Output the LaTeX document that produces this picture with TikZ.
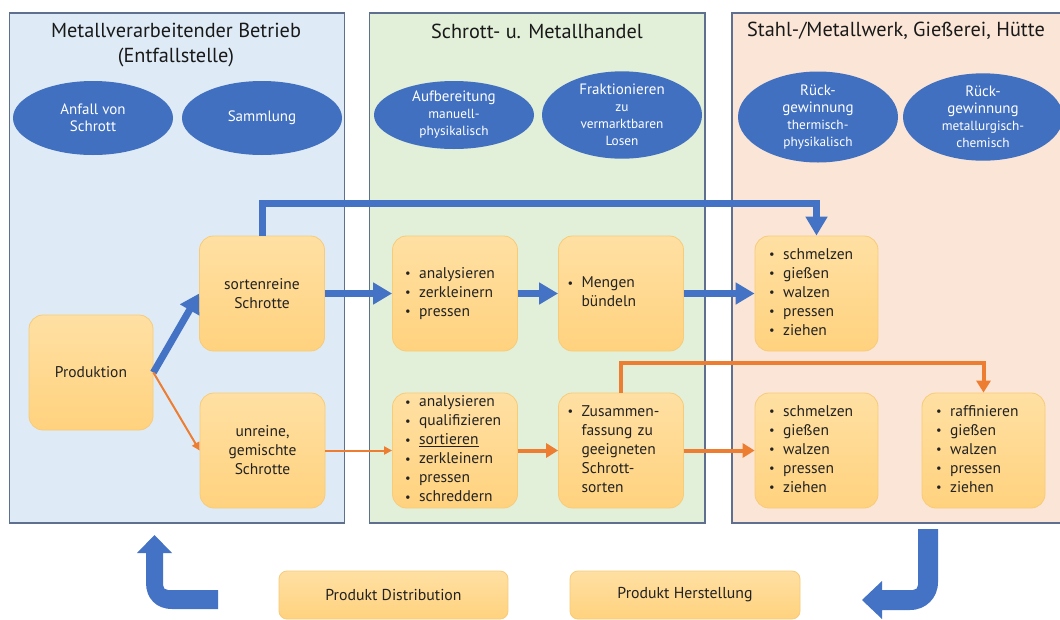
\documentclass[tikz,border=0pt]{standalone}
\usepackage{fontspec}
\setmainfont{PT Sans}
\usetikzlibrary{shapes.geometric,arrows.meta}
\definecolor{pA}{HTML}{DEEBF7}
\definecolor{pB}{HTML}{E2F0D9}
\definecolor{pC}{HTML}{FBE5D6}
\definecolor{pline}{HTML}{5F6F8F}
\definecolor{blu}{HTML}{4472C4}
\definecolor{ell}{HTML}{4170C0}
\definecolor{org}{HTML}{ED7D31}
\definecolor{btop}{HTML}{FFE0A3}
\definecolor{bbot}{HTML}{FFD27E}
\definecolor{bline}{HTML}{F7CB78}
\definecolor{txt}{HTML}{222222}
\newcommand\blist[1]{\begin{tabular}{@{}l@{\hspace{8.5pt}}l@{}}#1\end{tabular}}
\newcommand\bu{\raisebox{0.5pt}{\scalebox{0.8}{\textbullet}}}
\begin{document}
\begin{tikzpicture}[x=1pt,y=-1pt,
  panel/.style={draw=pline,line width=1.3pt},
  ptitle/.style={align=center,font=\fontsize{20.3}{25}\selectfont,text=black!90},
  oval/.style={ellipse,fill=ell,text=white,minimum width=160pt,minimum height=74pt,inner sep=0pt,align=center,font=\fontsize{15}{17}\selectfont},
  box/.style={rounded corners=14pt,top color=btop,bottom color=bbot,draw=bline,line width=0.8pt,
    minimum height=115pt,inner sep=0pt,text=txt,font=\fontsize{15.5}{19}\selectfont},
  cbox/.style={box,minimum width=125pt,align=center},
  lbox/.style={box,text width=100pt,inner xsep=12.5pt,align=left},
  bluearr/.style={draw=blu,line width=7pt,-{Triangle[width=21pt,length=19pt]}},
  orgthick/.style={draw=org,line width=4pt,-{Triangle[width=14pt,length=12pt]}},
  orgthin/.style={draw=org,line width=2pt,-{Triangle[width=8pt,length=8pt]}}
]
\useasboundingbox (0,0) rectangle (1060,619);
\fill[white] (0,0) rectangle (1060,619);
% panels
\filldraw[panel,fill=pA] (9.5,13) rectangle (344.5,523);
\filldraw[panel,fill=pB] (369.5,13) rectangle (705,523);
\filldraw[panel,fill=pC] (732,13) rectangle (1070,523);
% titles
\node[ptitle] (t1) at (176,45) {Metallverarbeitender Betrieb\\(Entfallstelle)};
\node[ptitle] (t2) at (537,31) {Schrott- u. Metallhandel};
\node[ptitle] (t3) at (896,31) {Stahl-/Metallwerk, Gießerei, Hütte};
% ovals
\node[oval] (e1) at (93,118) {Anfall von\\Schrott};
\node[oval] (e2) at (262,118) {Sammlung};
\node[oval,minimum height=68pt] (e3) at (454,115) {Aufbereitung\\{\fontsize{13.3}{17}\selectfont manuell-}\\{\fontsize{13.3}{17}\selectfont physikalisch}};
\node[oval,minimum height=76pt] (e4) at (622,115) {Fraktionieren\\{\fontsize{13.3}{17}\selectfont zu}\\{\fontsize{13.3}{17}\selectfont vermarktbaren}\\{\fontsize{13.3}{17}\selectfont Losen}};
\node[oval,minimum height=77pt] (e5) at (818,117) {Rück-\\gewinnung\\{\fontsize{13.3}{17}\selectfont thermisch-}\\{\fontsize{13.3}{17}\selectfont physikalisch}};
\node[oval,minimum height=77pt] (e6) at (983,117) {Rück-\\gewinnung\\{\fontsize{13.3}{17}\selectfont metallurgisch-}\\{\fontsize{13.3}{17}\selectfont chemisch}};
% boxes
\node[cbox,minimum width=124pt] (prod) at (91,372.5) {Produktion};
\node[cbox] (sort) at (262,293.5) {sortenreine\\Schrotte};
\node[cbox] (unr) at (262.5,450.5) {unreine,\\gemischte\\Schrotte};
\node[lbox] (an1) at (455,293.5) {\blist{\bu & analysieren\\ \bu & zerkleinern\\ \bu & pressen}};
\node[lbox,inner xsep=9pt,text width=107pt] (men) at (621,293.5) {\blist{\bu & Mengen\\ & bündeln}};
\node[lbox] (an2) at (455,450.5) {\blist{\bu & analysieren\\ \bu & qualifizieren\\ \bu & \underline{sortieren}\\ \bu & zerkleinern\\ \bu & pressen\\ \bu & schreddern}};
\node[lbox,inner xsep=9pt,text width=107pt] (zus) at (621,450.5) {\blist{\bu & Zusammen-\\ & fassung zu\\ & geeigneten\\ & Schrott-\\ & sorten}};
\node[lbox,inner xsep=14pt,text width=95pt] (sm1) at (816.5,293.5) {\blist{\bu & schmelzen\\ \bu & gießen\\ \bu & walzen\\ \bu & pressen\\ \bu & ziehen}};
\node[lbox,inner xsep=14pt,text width=95pt] (sm2) at (816.5,450.5) {\blist{\bu & schmelzen\\ \bu & gießen\\ \bu & walzen\\ \bu & pressen\\ \bu & ziehen}};
\node[lbox,inner xsep=14pt,text width=95pt] (raf) at (983.5,450.5) {\blist{\bu & raffinieren\\ \bu & gießen\\ \bu & walzen\\ \bu & pressen\\ \bu & ziehen}};
\node[box,minimum width=229pt,minimum height=48pt,rounded corners=8pt,font=\fontsize{15.8}{17}\selectfont] (pd) at (393.5,595) {Produkt Distribution};
\node[box,minimum width=230pt,minimum height=48pt,rounded corners=8pt,font=\fontsize{15.8}{17}\selectfont] (ph) at (685,595) {Produkt Herstellung};
% connectors
\coordinate (bt) at (540,203);
\coordinate (ot) at (800,363);
\draw[bluearr] (prod.east) -- (sort.west);
\draw[orgthin] (prod.east) -- (unr.west);
\draw[bluearr] (sort.east) -- (an1.west);
\draw[bluearr] (an1.east) -- (men.west);
\draw[bluearr] (men.east) -- (sm1.west);
\draw[bluearr,line join=miter] (sort.north) |- (bt) -| (sm1.north);
\draw[orgthin] (unr.east) -- (an2.west);
\draw[orgthick] (an2.east) -- (zus.west);
\draw[orgthick] (zus.east) -- (sm2.west);
\draw[orgthick,line join=miter] (zus.north) |- (ot) -| (raf.north);
% bottom cycle arrows
\fill[blu] (218,590) -- (168,590) .. controls (165,590) and (163,588) .. (163,585) -- (163,553) -- (172,553) -- (154.5,535) -- (137,553) -- (146,553) -- (146,583) .. controls (146,598) and (156,609) .. (172,609) -- (218,609) -- cycle;
\fill[blu] (918,529) -- (938,529) -- (938,582) .. controls (938,598) and (926,610) .. (910,610) -- (882,610) -- (882,619) -- (862,600) -- (882,581) -- (882,590) -- (913,590) .. controls (916,590) and (918,588) .. (918,585) -- cycle;
\end{tikzpicture}
\end{document}
